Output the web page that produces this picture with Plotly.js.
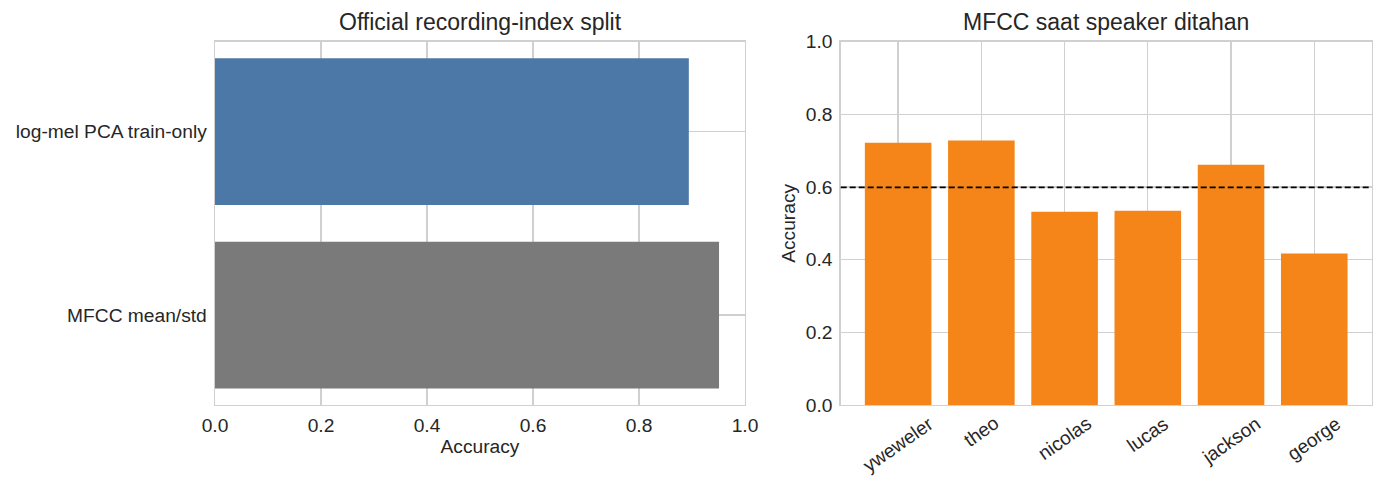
<!DOCTYPE html>
<html>
<head>
<meta charset="utf-8">
<script src="https://cdn.plot.ly/plotly-3.0.1.min.js"></script>
<style>
  html, body { margin: 0; padding: 0; background: #ffffff; }
  #chart { width: 1385px; height: 488px; }
</style>
</head>
<body>
<div id="chart"></div>
<script>
// left panel: official split, one bar per feature set (bottom to top)
let split_labels = ["MFCC mean/std", "log-mel PCA train-only"];
let split_acc = [0.951, 0.894];
let split_colors = ["#7a7a7a", "#4c78a8"];

// right panel: held-out speaker accuracy
let speakers = ["yweweler", "theo", "nicolas", "lucas", "jackson", "george"];
let speaker_acc = [0.722, 0.728, 0.532, 0.535, 0.661, 0.417];
let speaker_mean = 0.599;

let tick_vals = [0, 0.2, 0.4, 0.6, 0.8, 1.0];

let font_main = "Liberation Sans, Arial, sans-serif";
let grid_color = "#d0d0d0";
let text_color = "#262626";
let tick_size = 19.2;
let title_size = 23;

var data = [
    {
        type: "bar",
        orientation: "h",
        x: split_acc,
        y: split_labels,
        width: 0.8,
        marker: { color: split_colors },
        xaxis: "x",
        yaxis: "y",
        hoverinfo: "x+y",
        showlegend: false
    },
    {
        type: "bar",
        x: speakers,
        y: speaker_acc,
        width: 0.8,
        marker: { color: "#f58518" },
        xaxis: "x2",
        yaxis: "y2",
        hoverinfo: "x+y",
        showlegend: false
    }
];

function baseAxis(extra) {
    var ax = {
        showline: true,
        mirror: true,
        linecolor: grid_color,
        linewidth: 1.4,
        showgrid: true,
        gridcolor: grid_color,
        gridwidth: 1.3,
        zeroline: false,
        ticks: "outside",
        ticklen: 5,
        tickcolor: "rgba(0,0,0,0)",
        tickfont: { family: font_main, size: tick_size, color: text_color },
        fixedrange: true
    };
    for (var k in extra) ax[k] = extra[k];
    return ax;
}

// matplotlib-style rotated labels, centred under each bar
var speakerLabels = speakers.map(function (name) {
    return {
        text: name,
        xref: "x2", yref: "paper",
        x: name, y: (488 - 410) / 488,
        xanchor: "center", yanchor: "top",
        textangle: -35,
        showarrow: false,
        font: { family: font_main, size: tick_size, color: text_color }
    };
});

var layout = {
    width: 1385,
    height: 488,
    margin: { l: 0, r: 0, t: 0, b: 0 },
    paper_bgcolor: "#ffffff",
    plot_bgcolor: "#ffffff",
    bargap: 0.2,
    font: { family: font_main, color: text_color },
    xaxis: baseAxis({
        domain: [215 / 1385, 745 / 1385],
        anchor: "y",
        range: [0, 1],
        tickvals: tick_vals,
        tickformat: ".1f",
        ticklen: 3,
        title: { text: "Accuracy", font: { family: font_main, size: tick_size, color: text_color }, standoff: 3 }
    }),
    yaxis: baseAxis({
        domain: [83 / 488, 446.3 / 488],
        anchor: "x",
        type: "category",
        range: [-0.49, 1.49],
        ticklen: 3
    }),
    xaxis2: baseAxis({
        domain: [840.7 / 1385, 1371.7 / 1385],
        anchor: "y2",
        type: "category",
        range: [-0.69, 5.69],
        showticklabels: false
    }),
    yaxis2: baseAxis({
        domain: [83 / 488, 446.3 / 488],
        anchor: "x2",
        range: [0, 1],
        tickvals: tick_vals,
        tickformat: ".1f",
        ticklen: 3,
        title: { text: "Accuracy", font: { family: font_main, size: tick_size, color: text_color }, standoff: 5 }
    }),
    shapes: [
        {
            type: "line",
            xref: "x2 domain",
            yref: "y2",
            x0: 0,
            x1: 1,
            y0: speaker_mean,
            y1: speaker_mean,
            line: { color: "#000000", width: 1.8, dash: "6px,3px" }
        }
    ],
    annotations: [
        {
            text: "Official recording-index split",
            xref: "paper", yref: "paper",
            x: 480 / 1385, y: (488 - 22) / 488,
            xanchor: "center", yanchor: "middle",
            showarrow: false,
            font: { family: font_main, size: title_size, color: text_color }
        },
        {
            text: "MFCC saat speaker ditahan",
            xref: "paper", yref: "paper",
            x: 1106 / 1385, y: (488 - 22) / 488,
            xanchor: "center", yanchor: "middle",
            showarrow: false,
            font: { family: font_main, size: title_size, color: text_color }
        }
    ].concat(speakerLabels)
};

Plotly.newPlot("chart", data, layout, { displayModeBar: false, staticPlot: true });
</script>
</body>
</html>
